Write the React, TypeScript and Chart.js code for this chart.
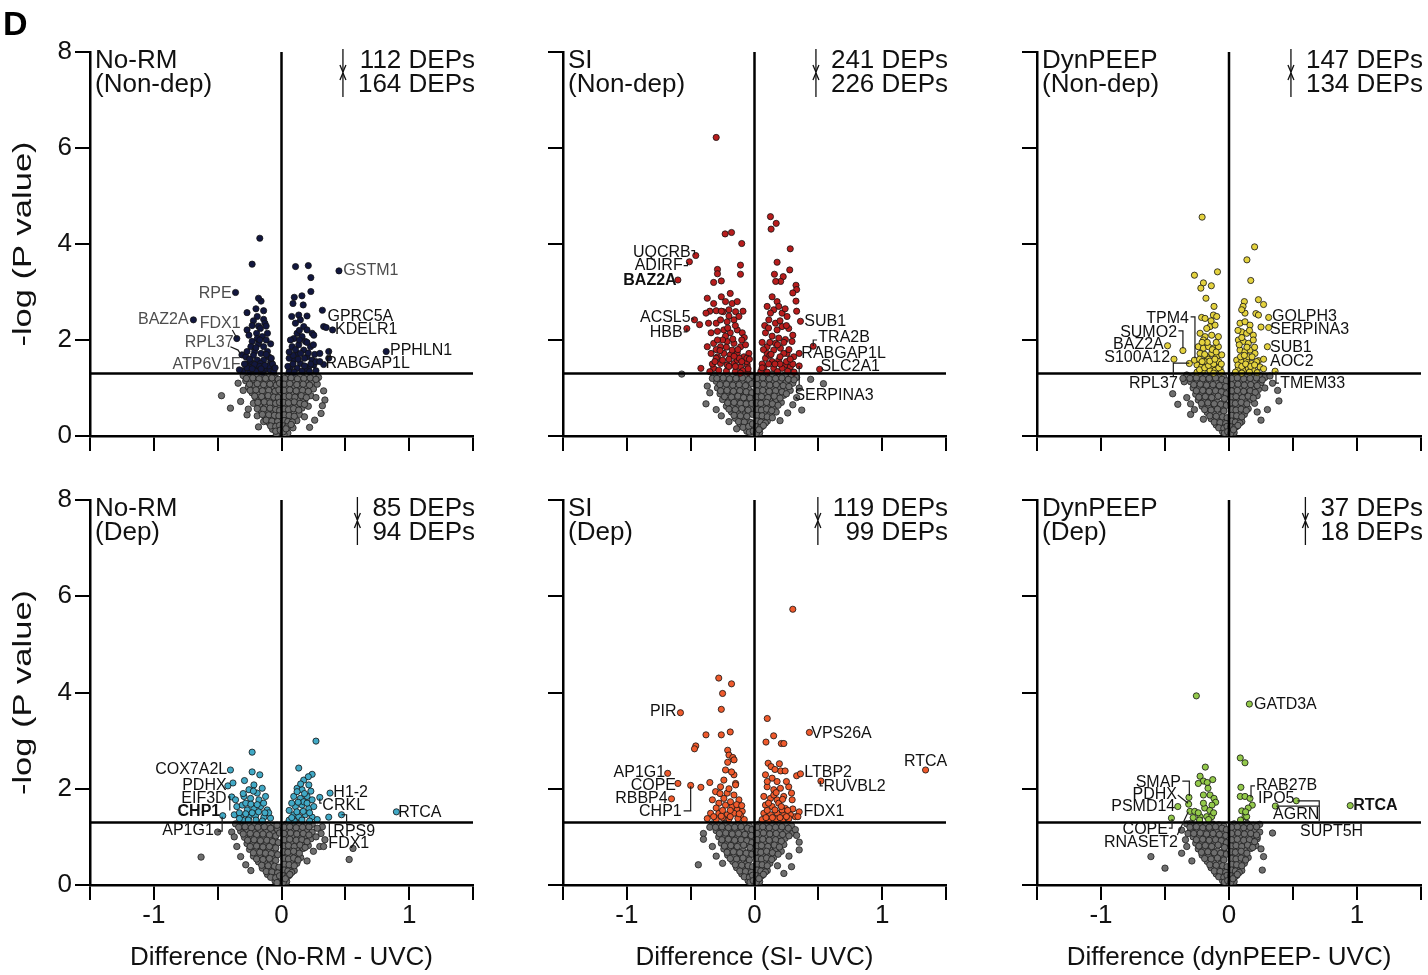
import React, { useEffect, useRef } from 'react';
import { Chart, registerables } from 'chart.js';
Chart.register(...registerables);

const FONT = "'Liberation Sans', Arial, Helvetica, sans-serif";
const THRESHOLD = 1.301; // -log10(0.05)
const GREY_TXT = '#4d4d4d';

// ---------- data: flat [x, y, x, y, ...] lists ----------
const noRmNonDepSig = [
  -0.17,4.12, -0.23,3.58, -0.36,2.99, -0.69,2.42, -0.35,2.03, -0.31,1.69, -0.28,1.5,
  -0.16,2.81, -0.18,2.87, -0.14,2.61, -0.19,2.49, -0.14,2.43, -0.13,2.35, -0.27,2.57, -0.18,2.29, -0.165,2.24,
  -0.195,2.14, -0.12,2.29, -0.11,2.14, -0.15,2.07, -0.19,2.03, -0.27,2.21, -0.255,2.10, -0.23,1.97, -0.18,1.92,
  -0.14,1.86, -0.085,1.92, -0.24,1.86, -0.21,1.76, -0.16,1.72, -0.11,1.76, -0.28,1.65, -0.24,1.55, -0.19,1.58,
  -0.14,1.58, -0.085,1.55, -0.073,1.44, -0.255,1.44, -0.19,1.41, -0.125,1.39, -0.165,1.51, -0.10,1.65, -0.27,1.76,
  -0.22,2.4, -0.2,2.65, -0.17,2.0, -0.22,1.68, -0.09,1.38, -0.3,1.36, -0.06,1.35, -0.2,1.35, -0.15,1.33, -0.25,1.34,
  -0.33,1.38, -0.1,1.46, -0.21,1.49, -0.12,2.0, -0.23,2.3,
  -0.27,1.42, -0.23,1.4, -0.17,1.45, -0.13,1.47, -0.07,1.5, -0.25,1.6, -0.12,1.7, -0.2,1.84, -0.08,1.62, -0.29,1.5,
  -0.16,1.4, -0.05,1.42,
  0.11,3.53, 0.21,3.55, 0.23,3.30, 0.23,3.01, 0.10,2.89, 0.16,2.92, 0.09,2.76, 0.17,2.73, 0.08,2.49, 0.135,2.52,
  0.148,2.42, 0.174,2.28, 0.109,2.35, 0.20,2.21, 0.122,2.14, 0.161,2.07, 0.24,2.14, 0.253,2.10, 0.096,2.03,
  0.187,1.97, 0.135,1.90, 0.083,1.86, 0.227,1.86, 0.174,1.79, 0.122,1.72, 0.20,1.65, 0.24,1.58, 0.096,1.58,
  0.148,1.51, 0.214,1.44, 0.253,1.48, 0.07,1.44, 0.122,1.41, 0.187,1.39, 0.06,1.34, 0.1,1.33, 0.16,1.35, 0.22,1.34,
  0.27,1.36, 0.2,2.5, 0.14,2.2, 0.07,2.0, 0.18,1.62, 0.11,1.8, 0.06,1.62,
  0.05,1.45, 0.09,1.5, 0.13,1.6, 0.18,1.46, 0.23,1.5, 0.27,1.55, 0.15,1.72, 0.21,1.73, 0.26,1.7, 0.09,1.68,
  0.2,1.95, 0.25,1.9, 0.14,2.0, 0.06,1.75,
  0.45,3.44, 0.32,2.62, 0.33,2.28, 0.35,2.26, 0.40,2.21, 0.82,1.76, 0.33,1.49, 0.30,1.72, 0.30,1.55, 0.37,1.76, 0.37,1.62,
];
const noRmNonDepNs = [
  -0.30,1.26, -0.25,1.27, -0.2,1.25, -0.15,1.26, -0.1,1.24, -0.06,1.27, -0.28,1.15, -0.22,1.17, -0.17,1.14, -0.12,1.16,
  -0.07,1.13, -0.04,1.2, -0.26,1.02, -0.21,1.05, -0.16,1.0, -0.11,1.03, -0.06,0.98, -0.23,0.9, -0.18,0.92, -0.13,0.88,
  -0.08,0.9, -0.04,0.85, -0.2,0.78, -0.15,0.8, -0.1,0.76, -0.05,0.74, -0.22,0.68, -0.17,0.66, -0.12,0.64, -0.07,0.62,
  -0.03,0.6, -0.16,0.52, -0.11,0.5, -0.06,0.48, -0.13,0.4, -0.08,0.38, -0.04,0.34, -0.1,0.28, -0.06,0.24, -0.03,0.18,
  -0.07,0.14, -0.02,0.08, -0.04,0.04, -0.47,0.84, -0.40,0.58, -0.32,0.72, -0.27,0.44, -0.18,0.19, -0.34,1.1, -0.3,0.95,
  -0.26,0.56, -0.19,0.42, -0.14,0.3,
  0.05,1.26, 0.1,1.25, 0.15,1.27, 0.2,1.24, 0.25,1.26, 0.29,1.22, 0.04,1.14, 0.09,1.16, 0.14,1.13, 0.19,1.15,
  0.24,1.12, 0.05,1.02, 0.1,1.04, 0.15,1.0, 0.2,1.03, 0.25,0.98, 0.04,0.9, 0.09,0.88, 0.14,0.91, 0.19,0.87,
  0.23,0.84, 0.04,0.76, 0.08,0.74, 0.13,0.78, 0.18,0.72, 0.03,0.63, 0.07,0.6, 0.12,0.64, 0.16,0.58, 0.21,0.62,
  0.05,0.5, 0.1,0.48, 0.14,0.45, 0.04,0.38, 0.08,0.35, 0.12,0.32, 0.03,0.26, 0.06,0.22, 0.09,0.17, 0.03,0.12,
  0.05,0.06, 0.02,0.03, 0.33,0.94, 0.34,0.75, 0.32,0.63, 0.31,0.47, 0.26,0.33, 0.22,0.18, 0.28,1.08, 0.27,0.8, 0.18,0.4,
];
const noRmNonDepCore = [
  -0.275,1.2, -0.225,1.21, -0.175,1.19, -0.125,1.2, -0.075,1.21, -0.025,1.18, -0.25,1.08, -0.19,1.09, -0.14,1.07,
  -0.09,1.08, -0.04,1.06, -0.015,1.1, -0.245,0.95, -0.2,0.96, -0.15,0.94, -0.1,0.95, -0.05,0.93, -0.02,0.96,
  -0.21,0.83, -0.155,0.82, -0.105,0.84, -0.06,0.81, -0.025,0.8, -0.185,0.7, -0.135,0.71, -0.09,0.69, -0.045,0.68,
  -0.015,0.7, -0.19,0.57, -0.14,0.56, -0.09,0.58, -0.045,0.55, -0.015,0.53, -0.15,0.45, -0.1,0.44, -0.055,0.43,
  -0.02,0.42, -0.12,0.33, -0.075,0.31, -0.03,0.3, -0.085,0.21, -0.045,0.2, -0.015,0.22, -0.045,0.1, -0.01,0.12,
  0.025,1.2, 0.075,1.21, 0.125,1.19, 0.175,1.2, 0.225,1.21, 0.27,1.18, 0.02,1.08, 0.065,1.09, 0.12,1.07, 0.17,1.08,
  0.22,1.06, 0.02,0.95, 0.065,0.96, 0.115,0.94, 0.165,0.95, 0.21,0.93, 0.02,0.82, 0.06,0.83, 0.105,0.81, 0.155,0.84,
  0.195,0.8, 0.015,0.7, 0.055,0.69, 0.1,0.71, 0.145,0.68, 0.18,0.66, 0.02,0.56, 0.055,0.55, 0.095,0.57, 0.135,0.54,
  0.02,0.44, 0.06,0.43, 0.1,0.41, 0.02,0.32, 0.05,0.3, 0.085,0.29, 0.015,0.21, 0.045,0.19, 0.075,0.24, 0.015,0.09, 0.035,0.15,
];

const siNonDepSig = [
  -0.30,6.22, -0.23,4.21, -0.18,4.24, -0.10,4.01, -0.46,3.76, -0.51,3.63, -0.60,3.25, -0.47,2.42, -0.53,2.24, -0.35,2.60,
  -0.29,3.47, -0.29,3.38, -0.32,3.20, -0.26,3.23, -0.11,3.56, -0.11,3.37, -0.37,2.87, -0.32,2.76, -0.26,2.90, -0.227,2.80,
  -0.19,2.97, -0.175,2.76, -0.135,2.80, -0.245,2.59, -0.20,2.63, -0.148,2.59, -0.30,2.61, -0.38,2.56, -0.43,2.32, -0.36,2.35,
  -0.30,2.35, -0.266,2.42, -0.214,2.38, -0.161,2.42, -0.122,2.49, -0.34,2.15, -0.29,2.18, -0.24,2.21, -0.19,2.15,
  -0.135,2.21, -0.096,2.15, -0.37,1.86, -0.32,1.93, -0.266,1.86, -0.214,1.97, -0.161,1.93, -0.109,1.86, -0.07,1.90,
  -0.34,1.72, -0.29,1.65, -0.24,1.72, -0.19,1.69, -0.135,1.72, -0.083,1.65, -0.266,1.51, -0.214,1.48, -0.161,1.51,
  -0.109,1.44, -0.057,1.48, -0.42,1.41, -0.32,1.41, -0.175,1.79, -0.227,2.08, -0.135,1.58, -0.044,1.72,
  -0.22,1.35, -0.15,1.34, -0.09,1.36, -0.05,1.33, -0.28,1.37, -0.35,1.34, -0.2,1.6, -0.12,1.62, -0.06,1.55, -0.25,2.0,
  -0.08,2.05, -0.3,1.8, -0.15,2.3, -0.2,2.5, -0.09,2.6, -0.05,1.4, -0.11,1.31,
  -0.33,1.5, -0.3,1.62, -0.25,1.58, -0.2,1.45, -0.15,1.45, -0.1,1.55, -0.06,1.62, -0.27,1.78, -0.22,1.85, -0.13,1.8,
  -0.1,2.0, -0.17,2.02, -0.29,2.0, -0.21,2.25, -0.26,2.6, -0.31,1.55, -0.16,1.66, -0.04,1.6,
  0.125,4.57, 0.17,4.43, 0.13,4.31, 0.28,3.90, 0.177,3.62, 0.276,3.46, 0.156,3.37, 0.225,3.32, 0.205,3.22, 0.166,3.22,
  0.325,3.14, 0.33,3.05, 0.30,2.98, 0.325,2.81, 0.33,2.60, 0.138,2.90, 0.177,2.80, 0.099,2.70, 0.151,2.63, 0.216,2.56,
  0.255,2.49, 0.112,2.42, 0.164,2.35, 0.216,2.28, 0.268,2.24, 0.086,2.15, 0.138,2.08, 0.19,2.04, 0.242,2.01, 0.294,1.97,
  0.099,1.86, 0.151,1.79, 0.203,1.83, 0.255,1.72, 0.307,1.65, 0.086,1.62, 0.138,1.55, 0.19,1.58, 0.242,1.48, 0.073,1.44,
  0.151,1.41, 0.216,1.41, 0.281,1.44, 0.125,2.56, 0.177,2.21, 0.229,1.72, 0.099,1.72, 0.164,1.93,
  0.36,2.39, 0.46,1.87, 0.35,1.72, 0.51,1.39, 0.35,1.46,
  0.05,1.35, 0.1,1.33, 0.18,1.34, 0.26,1.35, 0.31,1.33, 0.06,1.5, 0.12,1.95, 0.2,2.4, 0.08,2.3, 0.3,1.5, 0.2,1.5, 0.12,1.68,
  0.06,1.42, 0.11,1.5, 0.16,1.5, 0.25,1.55, 0.28,1.6, 0.2,1.65, 0.13,1.7, 0.07,1.8, 0.18,1.9, 0.23,1.95, 0.27,1.8,
  0.11,2.25, 0.25,2.3, 0.3,2.1, 0.06,1.95, 0.19,2.7, 0.24,2.65,
];
const siNonDepNs = [
  -0.32,1.27, -0.27,1.25, -0.22,1.28, -0.17,1.24, -0.12,1.27, -0.07,1.25, -0.03,1.22, -0.30,1.14, -0.25,1.16, -0.2,1.12,
  -0.15,1.15, -0.1,1.13, -0.05,1.1, -0.29,1.0, -0.24,1.03, -0.19,0.99, -0.14,1.02, -0.09,0.98, -0.04,0.95, -0.27,0.88,
  -0.22,0.9, -0.17,0.86, -0.12,0.89, -0.07,0.85, -0.25,0.76, -0.2,0.74, -0.15,0.77, -0.1,0.72, -0.05,0.7, -0.22,0.62,
  -0.17,0.6, -0.12,0.64, -0.07,0.58, -0.03,0.55, -0.18,0.5, -0.13,0.47, -0.08,0.44, -0.15,0.37, -0.1,0.34, -0.05,0.3,
  -0.11,0.24, -0.07,0.2, -0.03,0.15, -0.06,0.1, -0.02,0.05, -0.57,1.29, -0.38,0.67, -0.37,1.04, -0.35,0.9, -0.33,1.2,
  -0.3,0.55, -0.26,0.42, -0.2,0.3, -0.14,0.15,
  0.04,1.27, 0.09,1.25, 0.14,1.28, 0.19,1.24, 0.24,1.27, 0.29,1.25, 0.33,1.22, 0.05,1.14, 0.1,1.16, 0.15,1.12,
  0.2,1.15, 0.25,1.13, 0.3,1.1, 0.04,1.01, 0.09,1.03, 0.14,0.99, 0.19,1.02, 0.24,0.98, 0.28,0.95, 0.04,0.88,
  0.08,0.9, 0.13,0.86, 0.18,0.89, 0.23,0.85, 0.03,0.75, 0.08,0.77, 0.12,0.73, 0.17,0.76, 0.21,0.7, 0.03,0.62,
  0.07,0.6, 0.11,0.64, 0.15,0.58, 0.04,0.5, 0.08,0.47, 0.12,0.45, 0.17,0.5, 0.03,0.37, 0.07,0.35, 0.1,0.31,
  0.03,0.25, 0.06,0.2, 0.02,0.12, 0.04,0.07, 0.44,1.18, 0.54,1.09, 0.37,0.54, 0.33,0.8, 0.3,0.65, 0.26,0.48, 0.2,0.32, 0.35,1.0,
];
const siNonDepCore = [
  -0.295,1.2, -0.245,1.21, -0.195,1.19, -0.145,1.2, -0.095,1.21, -0.045,1.18, -0.015,1.26, -0.27,1.07, -0.22,1.08,
  -0.17,1.06, -0.12,1.07, -0.07,1.05, -0.02,1.09, -0.265,0.94, -0.215,0.95, -0.165,0.93, -0.115,0.94, -0.065,0.92,
  -0.02,0.9, -0.235,0.82, -0.18,0.81, -0.13,0.83, -0.085,0.8, -0.035,0.79, -0.21,0.69, -0.16,0.7, -0.11,0.68,
  -0.065,0.67, -0.02,0.68, -0.2,0.56, -0.15,0.55, -0.1,0.57, -0.05,0.54, -0.015,0.45, -0.16,0.43, -0.11,0.42,
  -0.06,0.41, -0.125,0.3, -0.08,0.29, -0.03,0.28, -0.09,0.18, -0.045,0.2, -0.015,0.25, -0.04,0.08, -0.01,0.1,
  0.02,1.2, 0.065,1.21, 0.115,1.19, 0.165,1.2, 0.215,1.21, 0.265,1.18, 0.31,1.17, 0.02,1.07, 0.07,1.08, 0.12,1.06,
  0.17,1.07, 0.225,1.05, 0.27,1.03, 0.02,0.94, 0.065,0.95, 0.115,0.93, 0.165,0.94, 0.215,0.92, 0.25,0.88, 0.015,0.81,
  0.055,0.82, 0.105,0.8, 0.155,0.83, 0.2,0.79, 0.015,0.69, 0.05,0.68, 0.095,0.7, 0.14,0.67, 0.185,0.64, 0.02,0.55,
  0.055,0.54, 0.095,0.56, 0.135,0.53, 0.02,0.43, 0.06,0.42, 0.1,0.4, 0.14,0.38, 0.02,0.31, 0.05,0.29, 0.085,0.27,
  0.015,0.19, 0.045,0.17, 0.07,0.22, 0.015,0.06, 0.035,0.13,
];

const dynNonDepSig = [
  -0.21,4.56, -0.27,3.35, -0.09,3.42, -0.20,3.19, -0.22,3.08, -0.138,3.13, -0.18,2.87, -0.117,2.70, -0.122,2.52,
  -0.096,2.49, -0.214,2.47, -0.187,2.45, -0.148,2.28, -0.109,2.31, -0.174,2.24, -0.226,2.14, -0.187,2.07, -0.135,2.10,
  -0.083,2.07, -0.24,1.86, -0.20,1.83, -0.16,1.86, -0.122,1.83, -0.083,1.86, -0.226,1.72, -0.174,1.65, -0.135,1.72,
  -0.096,1.65, -0.057,1.69, -0.25,1.48, -0.214,1.44, -0.174,1.51, -0.135,1.44, -0.096,1.48, -0.07,1.41, -0.20,1.37,
  -0.148,1.36, -0.109,1.37, -0.27,1.58, -0.36,1.78, -0.48,1.88, -0.43,1.60, -0.31,1.51,
  -0.06,1.33, -0.25,1.33, -0.16,1.6, -0.2,2.0, -0.1,1.95, -0.14,2.4, -0.08,1.55, -0.19,1.55, -0.23,1.6, -0.12,1.31,
  -0.23,1.38, -0.19,1.42, -0.16,1.47, -0.12,1.5, -0.08,1.42, -0.21,1.55, -0.15,1.56, -0.11,1.6, -0.19,1.7, -0.13,1.8,
  -0.17,1.95, -0.1,1.75, -0.21,1.95, -0.06,1.5,
  0.20,3.94, 0.14,3.67, 0.17,3.24, 0.23,2.84, 0.27,2.74, 0.12,2.80, 0.11,2.70, 0.31,2.47, 0.21,2.55, 0.23,2.52,
  0.25,2.27, 0.31,2.26, 0.30,1.86, 0.23,1.57, 0.36,1.35, 0.086,2.35, 0.125,2.38, 0.164,2.31, 0.099,2.17, 0.138,2.14,
  0.19,2.10, 0.073,2.00, 0.112,1.97, 0.151,1.93, 0.19,2.00, 0.086,1.79, 0.125,1.76, 0.164,1.79, 0.203,1.72, 0.06,1.58,
  0.099,1.55, 0.138,1.58, 0.177,1.51, 0.216,1.55, 0.073,1.41, 0.112,1.37, 0.151,1.41, 0.19,1.37, 0.242,1.44, 0.125,2.56,
  0.099,2.63, 0.05,1.33, 0.1,1.31, 0.16,1.33, 0.22,1.32, 0.27,1.4, 0.27,1.6, 0.08,1.9, 0.15,1.65,
  0.07,1.48, 0.1,1.45, 0.13,1.5, 0.17,1.45, 0.2,1.48, 0.09,1.65, 0.12,1.68, 0.18,1.65, 0.2,1.85, 0.14,1.85, 0.1,2.05,
  0.16,2.2, 0.07,2.2,
];
const dynNonDepNs = [
  -0.33,1.27, -0.28,1.25, -0.23,1.28, -0.18,1.24, -0.13,1.27, -0.08,1.25, -0.04,1.22, -0.3,1.13, -0.25,1.15, -0.2,1.12,
  -0.15,1.16, -0.1,1.12, -0.05,1.09, -0.28,1.0, -0.23,1.02, -0.18,0.98, -0.13,1.01, -0.08,0.97, -0.04,0.94, -0.26,0.87,
  -0.21,0.89, -0.16,0.85, -0.11,0.88, -0.06,0.84, -0.24,0.75, -0.19,0.73, -0.14,0.76, -0.09,0.71, -0.04,0.69, -0.21,0.62,
  -0.16,0.6, -0.11,0.63, -0.06,0.57, -0.17,0.49, -0.12,0.46, -0.07,0.43, -0.14,0.36, -0.09,0.33, -0.04,0.29, -0.1,0.23,
  -0.06,0.19, -0.03,0.14, -0.05,0.09, -0.02,0.04, -0.44,0.88, -0.40,0.66, -0.35,1.13, -0.30,0.67, -0.30,0.45, -0.36,1.2,
  -0.33,0.8, -0.27,0.55, -0.2,0.35,
  0.04,1.27, 0.09,1.25, 0.14,1.28, 0.19,1.24, 0.24,1.26, 0.28,1.22, 0.05,1.14, 0.1,1.16, 0.15,1.12, 0.2,1.15,
  0.25,1.11, 0.04,1.01, 0.09,1.03, 0.14,0.99, 0.19,1.02, 0.23,0.97, 0.04,0.88, 0.08,0.9, 0.13,0.86, 0.18,0.89,
  0.22,0.84, 0.03,0.75, 0.08,0.77, 0.12,0.73, 0.17,0.76, 0.2,0.68, 0.03,0.62, 0.07,0.6, 0.11,0.64, 0.15,0.57,
  0.04,0.5, 0.08,0.47, 0.12,0.45, 0.03,0.37, 0.07,0.35, 0.1,0.3, 0.03,0.25, 0.06,0.2, 0.02,0.12, 0.04,0.07,
  0.39,0.73, 0.38,0.95, 0.25,0.33, 0.28,1.0, 0.32,1.25, 0.3,0.55, 0.22,0.5, 0.34,1.1,
];
const dynNonDepCore = [
  -0.305,1.2, -0.255,1.21, -0.205,1.19, -0.155,1.2, -0.105,1.21, -0.055,1.18, -0.02,1.15, -0.275,1.07, -0.225,1.08,
  -0.175,1.06, -0.125,1.07, -0.075,1.05, -0.025,1.03, -0.255,0.94, -0.205,0.95, -0.155,0.93, -0.105,0.94, -0.06,0.92,
  -0.02,0.88, -0.235,0.81, -0.185,0.82, -0.135,0.8, -0.085,0.83, -0.035,0.78, -0.215,0.68, -0.165,0.69, -0.115,0.67,
  -0.065,0.66, -0.02,0.64, -0.19,0.55, -0.14,0.54, -0.09,0.56, -0.04,0.52, -0.15,0.42, -0.1,0.41, -0.05,0.4,
  -0.015,0.38, -0.115,0.29, -0.07,0.28, -0.025,0.26, -0.08,0.17, -0.04,0.16, -0.015,0.2, -0.035,0.06, -0.01,0.09,
  0.02,1.2, 0.065,1.21, 0.115,1.19, 0.165,1.2, 0.215,1.21, 0.26,1.17, 0.02,1.07, 0.07,1.08, 0.12,1.06, 0.17,1.07,
  0.22,1.05, 0.02,0.94, 0.065,0.95, 0.115,0.93, 0.165,0.94, 0.205,0.91, 0.015,0.81, 0.055,0.82, 0.105,0.8, 0.15,0.83,
  0.19,0.79, 0.015,0.69, 0.05,0.68, 0.095,0.7, 0.14,0.67, 0.02,0.55, 0.055,0.54, 0.095,0.56, 0.135,0.53, 0.02,0.43,
  0.06,0.42, 0.1,0.4, 0.02,0.31, 0.05,0.29, 0.085,0.27, 0.015,0.19, 0.045,0.17, 0.07,0.22, 0.015,0.06, 0.035,0.13,
];

const noRmDepSig = [
  -0.40,2.39, -0.23,2.76, -0.23,2.35, -0.17,2.29, -0.42,2.06, -0.38,2.12, -0.29,2.17, -0.39,1.83, -0.46,1.44,
  -0.255,1.98, -0.216,2.08, -0.19,1.91, -0.151,2.01, -0.294,1.84, -0.242,1.80, -0.177,1.77, -0.125,1.84, -0.35,1.63,
  -0.307,1.66, -0.268,1.56, -0.216,1.59, -0.164,1.63, -0.112,1.56, -0.37,1.46, -0.32,1.42, -0.255,1.41, -0.203,1.44,
  -0.138,1.41, -0.086,1.39, -0.36,1.77, -0.28,1.70, -0.2,1.35, -0.15,1.33, -0.3,1.34, -0.1,1.5,
  -0.33,1.5, -0.28,1.48, -0.23,1.5, -0.18,1.52, -0.13,1.5, -0.24,1.68, -0.19,1.67, -0.14,1.7, -0.3,1.9, -0.22,1.95,
  -0.33,1.38, -0.26,1.35,
  0.27,2.99, 0.135,2.43, 0.24,2.30, 0.38,1.91, 0.30,1.82, 0.90,1.52, 0.47,1.46, 0.37,1.41, 0.174,2.18, 0.122,2.01,
  0.161,1.98, 0.214,2.08, 0.096,1.84, 0.148,1.80, 0.20,1.84, 0.24,1.77, 0.109,1.63, 0.161,1.66, 0.214,1.59, 0.253,1.63,
  0.096,1.46, 0.135,1.42, 0.187,1.46, 0.24,1.41, 0.122,1.94, 0.174,1.73, 0.06,1.35, 0.1,1.33, 0.16,1.35, 0.22,1.33,
  0.28,1.36, 0.06,1.55, 0.08,1.4, 0.12,1.52, 0.17,1.53, 0.22,1.5, 0.13,1.72, 0.2,1.7, 0.08,1.7, 0.18,1.9, 0.23,1.95,
  0.15,2.1, 0.21,2.25,
];
const noRmDepNs = [
  -0.36,1.27, -0.31,1.25, -0.26,1.28, -0.21,1.24, -0.16,1.27, -0.11,1.25, -0.06,1.22, -0.32,1.12, -0.27,1.15, -0.22,1.11,
  -0.17,1.14, -0.12,1.1, -0.07,1.08, -0.03,1.15, -0.29,0.99, -0.24,1.01, -0.19,0.97, -0.14,1.0, -0.09,0.96, -0.05,0.93,
  -0.27,0.86, -0.22,0.88, -0.17,0.84, -0.12,0.87, -0.07,0.82, -0.25,0.74, -0.2,0.72, -0.15,0.75, -0.1,0.7, -0.05,0.68,
  -0.22,0.6, -0.17,0.58, -0.12,0.62, -0.07,0.56, -0.18,0.48, -0.13,0.45, -0.08,0.42, -0.15,0.35, -0.1,0.32, -0.05,0.28,
  -0.11,0.22, -0.06,0.18, -0.03,0.13, -0.05,0.08, -0.02,0.03, -0.50,1.10, -0.63,0.58, -0.39,1.10, -0.32,1.21, -0.37,1.0,
  -0.35,0.80, -0.32,0.59, -0.28,0.42, -0.24,0.3,
  0.04,1.27, 0.09,1.25, 0.14,1.28, 0.19,1.24, 0.24,1.26, 0.05,1.14, 0.1,1.16, 0.15,1.12, 0.2,1.15, 0.24,1.1,
  0.04,1.01, 0.09,1.03, 0.14,0.99, 0.19,1.02, 0.23,0.96, 0.04,0.88, 0.08,0.9, 0.13,0.86, 0.18,0.89, 0.21,0.82,
  0.03,0.75, 0.08,0.77, 0.12,0.73, 0.17,0.76, 0.03,0.62, 0.07,0.6, 0.11,0.64, 0.15,0.57, 0.04,0.5, 0.08,0.47,
  0.12,0.45, 0.03,0.37, 0.07,0.35, 0.1,0.3, 0.03,0.25, 0.06,0.2, 0.02,0.12, 0.04,0.07, 0.53,0.53, 0.30,0.80,
  0.31,1.07, 0.56,0.76, 0.34,0.94, 0.32,1.21, 0.28,1.18, 0.33,0.80, 0.27,1.0, 0.25,0.7, 0.2,0.5,
];
const noRmDepCore = [
  -0.335,1.2, -0.285,1.21, -0.235,1.19, -0.185,1.2, -0.135,1.21, -0.085,1.18, -0.035,1.24, -0.3,1.06, -0.245,1.07,
  -0.195,1.05, -0.145,1.06, -0.095,1.04, -0.045,1.02, -0.015,1.08, -0.265,0.93, -0.215,0.94, -0.165,0.92, -0.115,0.93,
  -0.07,0.9, -0.025,0.88, -0.245,0.8, -0.195,0.81, -0.145,0.79, -0.095,0.8, -0.045,0.77, -0.22,0.67, -0.17,0.68,
  -0.125,0.66, -0.08,0.65, -0.03,0.63, -0.195,0.54, -0.145,0.53, -0.095,0.55, -0.045,0.51, -0.155,0.41, -0.105,0.4,
  -0.055,0.39, -0.02,0.37, -0.12,0.28, -0.075,0.27, -0.03,0.25, -0.085,0.16, -0.045,0.15, -0.015,0.19, -0.035,0.05,
  0.02,1.2, 0.065,1.21, 0.115,1.19, 0.165,1.2, 0.215,1.21, 0.02,1.07, 0.07,1.08, 0.12,1.06, 0.17,1.07, 0.215,1.04,
  0.02,0.94, 0.065,0.95, 0.115,0.93, 0.16,0.94, 0.2,0.9, 0.015,0.81, 0.055,0.82, 0.1,0.8, 0.145,0.83, 0.185,0.78,
  0.015,0.69, 0.05,0.68, 0.095,0.7, 0.14,0.66, 0.02,0.55, 0.055,0.54, 0.095,0.56, 0.13,0.52, 0.02,0.43, 0.06,0.42,
  0.1,0.4, 0.02,0.31, 0.05,0.29, 0.08,0.26, 0.015,0.19, 0.045,0.17, 0.065,0.22, 0.015,0.06, 0.03,0.13,
];

const siDepSig = [
  -0.28,4.30, -0.18,4.18, -0.25,3.98, -0.26,3.65, -0.58,3.58, -0.38,3.12, -0.26,3.12, -0.19,3.18, -0.46,2.89, -0.47,2.83,
  -0.21,2.80, -0.20,2.70, -0.17,2.65, -0.16,2.60, -0.68,2.32, -0.60,2.11, -0.65,1.79, -0.50,2.07, -0.42,2.03, -0.35,2.13,
  -0.227,2.39, -0.161,2.29, -0.148,2.11, -0.24,2.18, -0.305,1.94, -0.214,1.91, -0.161,1.87, -0.122,1.77, -0.33,1.77,
  -0.279,1.70, -0.227,1.66, -0.175,1.63, -0.135,1.56, -0.096,1.53, -0.344,1.49, -0.279,1.49, -0.214,1.46, -0.161,1.49,
  -0.109,1.44, -0.24,1.80, -0.188,1.73, -0.148,2.08, -0.266,2.04, -0.37,1.38, -0.3,1.36, -0.2,1.37, -0.13,1.38,
  -0.08,1.36, -0.25,1.4,
  -0.32,1.42, -0.26,1.43, -0.19,1.42, -0.12,1.48, -0.3,1.6, -0.25,1.55, -0.19,1.55, -0.14,1.67, -0.2,2.0, -0.27,1.9,
  -0.18,2.35, -0.21,2.55, -0.1,1.65,
  0.30,5.73, 0.10,3.46, 0.43,3.17, 0.15,3.10, 0.09,2.97, 0.21,2.94, 0.23,2.94, 1.34,2.39, 0.33,2.27, 0.36,2.31,
  0.52,2.16, 0.35,1.52, 0.32,1.42, 0.34,1.42, 0.107,2.53, 0.13,2.46, 0.195,2.52, 0.205,2.37, 0.24,2.37, 0.268,2.04,
  0.29,1.91, 0.295,1.77, 0.30,1.58, 0.086,2.29, 0.138,2.22, 0.177,2.15, 0.099,2.04, 0.151,1.98, 0.203,2.01, 0.073,1.84,
  0.125,1.80, 0.177,1.77, 0.229,1.84, 0.086,1.66, 0.138,1.63, 0.19,1.70, 0.242,1.59, 0.073,1.49, 0.125,1.46, 0.177,1.49,
  0.229,1.46, 0.281,1.46, 0.151,1.87, 0.216,1.56, 0.06,1.36, 0.11,1.34, 0.17,1.37, 0.22,1.35, 0.27,1.38,
  0.09,1.4, 0.14,1.4, 0.2,1.4, 0.25,1.42, 0.1,1.55, 0.16,1.56, 0.21,1.63, 0.26,1.55, 0.11,1.7, 0.17,1.92, 0.22,1.78,
  0.1,2.15, 0.16,2.4, 0.25,2.15,
];
const siDepNs = [
  -0.33,1.27, -0.28,1.25, -0.23,1.28, -0.18,1.24, -0.13,1.27, -0.08,1.25, -0.04,1.22, -0.3,1.13, -0.25,1.15, -0.2,1.12,
  -0.15,1.16, -0.1,1.12, -0.05,1.09, -0.28,1.0, -0.23,1.02, -0.18,0.98, -0.13,1.01, -0.08,0.97, -0.04,0.94, -0.26,0.87,
  -0.21,0.89, -0.16,0.85, -0.11,0.88, -0.06,0.84, -0.24,0.75, -0.19,0.73, -0.14,0.76, -0.09,0.71, -0.04,0.69, -0.21,0.62,
  -0.16,0.6, -0.11,0.63, -0.06,0.57, -0.17,0.49, -0.12,0.46, -0.07,0.43, -0.14,0.36, -0.09,0.33, -0.04,0.29, -0.1,0.23,
  -0.06,0.19, -0.03,0.14, -0.05,0.09, -0.02,0.04, -0.44,0.42, -0.40,1.07, -0.40,0.95, -0.35,1.2, -0.33,0.8, -0.3,0.6,
  -0.25,0.45,
  0.04,1.27, 0.09,1.25, 0.14,1.28, 0.19,1.24, 0.24,1.26, 0.29,1.23, 0.05,1.14, 0.1,1.16, 0.15,1.12, 0.2,1.15,
  0.25,1.11, 0.3,1.08, 0.04,1.01, 0.09,1.03, 0.14,0.99, 0.19,1.02, 0.24,0.97, 0.04,0.88, 0.08,0.9, 0.13,0.86,
  0.18,0.89, 0.23,0.84, 0.03,0.75, 0.08,0.77, 0.12,0.73, 0.17,0.76, 0.21,0.7, 0.03,0.62, 0.07,0.6, 0.11,0.64,
  0.15,0.57, 0.04,0.5, 0.08,0.47, 0.12,0.45, 0.03,0.37, 0.07,0.35, 0.1,0.3, 0.03,0.25, 0.06,0.2, 0.02,0.12,
  0.04,0.07, 0.29,0.38, 0.35,0.73, 0.32,1.15, 0.33,1.03, 0.35,0.89, 0.23,0.24, 0.27,0.6, 0.18,0.4,
];
const siDepCore = [
  -0.305,1.2, -0.255,1.21, -0.205,1.19, -0.155,1.2, -0.105,1.21, -0.055,1.18, -0.02,1.15, -0.275,1.07, -0.225,1.08,
  -0.175,1.06, -0.125,1.07, -0.075,1.05, -0.025,1.03, -0.255,0.94, -0.205,0.95, -0.155,0.93, -0.105,0.94, -0.06,0.92,
  -0.02,0.88, -0.235,0.81, -0.185,0.82, -0.135,0.8, -0.085,0.83, -0.035,0.78, -0.215,0.68, -0.165,0.69, -0.115,0.67,
  -0.065,0.66, -0.02,0.64, -0.19,0.55, -0.14,0.54, -0.09,0.56, -0.04,0.52, -0.15,0.42, -0.1,0.41, -0.05,0.4,
  -0.015,0.38, -0.115,0.29, -0.07,0.28, -0.025,0.26, -0.08,0.17, -0.04,0.16, -0.015,0.2, -0.035,0.06, -0.01,0.09,
  0.02,1.2, 0.065,1.21, 0.115,1.19, 0.165,1.2, 0.215,1.21, 0.265,1.18, 0.02,1.07, 0.07,1.08, 0.12,1.06, 0.17,1.07,
  0.22,1.05, 0.27,1.02, 0.02,0.94, 0.065,0.95, 0.115,0.93, 0.165,0.94, 0.21,0.91, 0.015,0.81, 0.055,0.82, 0.105,0.8,
  0.155,0.83, 0.195,0.79, 0.015,0.69, 0.05,0.68, 0.095,0.7, 0.14,0.67, 0.185,0.64, 0.02,0.55, 0.055,0.54, 0.095,0.56,
  0.135,0.53, 0.02,0.43, 0.06,0.42, 0.1,0.4, 0.02,0.31, 0.05,0.29, 0.085,0.27, 0.015,0.19, 0.045,0.17, 0.07,0.22,
  0.015,0.06, 0.035,0.13,
];

const dynDepSig = [
  -0.255,3.93, -0.185,2.45, -0.226,2.26, -0.20,2.16, -0.17,2.13, -0.127,2.19, -0.24,2.11, -0.164,2.01, -0.148,1.87,
  -0.20,1.87, -0.117,1.80, -0.104,1.72, -0.133,1.66, -0.313,1.82, -0.315,1.68, -0.40,1.63, -0.305,1.53, -0.268,1.53,
  -0.45,1.39, -0.226,1.42, -0.174,1.42, -0.135,1.42, -0.19,1.6, -0.15,1.55, -0.24,1.5,
  -0.23,1.35, -0.16,1.36, -0.2,1.7, -0.12,1.5, -0.28,1.4,
  0.159,3.76, 0.088,2.64, 0.125,2.54, 0.093,2.03, 0.088,1.84, 0.125,1.84, 0.164,1.80, 0.182,1.66, 0.362,1.64,
  0.526,1.75, 0.947,1.65, 0.10,1.54, 0.125,1.42, 0.138,1.42, 0.15,1.6, 0.09,1.35, 0.13,1.52,
];
const dynDepNs = [
  -0.33,1.27, -0.28,1.25, -0.23,1.28, -0.18,1.24, -0.13,1.27, -0.08,1.25, -0.04,1.22, -0.3,1.13, -0.25,1.15, -0.2,1.12,
  -0.15,1.16, -0.1,1.12, -0.05,1.09, -0.28,1.0, -0.23,1.02, -0.18,0.98, -0.13,1.01, -0.08,0.97, -0.04,0.94, -0.26,0.87,
  -0.21,0.89, -0.16,0.85, -0.11,0.88, -0.06,0.84, -0.24,0.75, -0.19,0.73, -0.14,0.76, -0.09,0.71, -0.04,0.69, -0.21,0.62,
  -0.16,0.6, -0.11,0.63, -0.06,0.57, -0.17,0.49, -0.12,0.46, -0.07,0.43, -0.14,0.36, -0.09,0.33, -0.04,0.29, -0.1,0.23,
  -0.06,0.19, -0.03,0.14, -0.05,0.09, -0.02,0.04, -0.61,0.59, -0.50,0.35, -0.37,0.66, -0.33,0.80, -0.34,0.94, -0.32,1.07,
  -0.37,1.14, -0.30,1.28, -0.29,0.5,
  0.04,1.27, 0.09,1.25, 0.14,1.28, 0.19,1.24, 0.24,1.26, 0.05,1.14, 0.1,1.16, 0.15,1.12, 0.2,1.15, 0.24,1.1,
  0.04,1.01, 0.09,1.03, 0.14,0.99, 0.19,1.02, 0.22,0.96, 0.04,0.88, 0.08,0.9, 0.13,0.86, 0.18,0.89, 0.21,0.82,
  0.03,0.75, 0.08,0.77, 0.12,0.73, 0.17,0.76, 0.03,0.62, 0.07,0.6, 0.11,0.64, 0.15,0.57, 0.04,0.5, 0.08,0.47,
  0.12,0.45, 0.03,0.37, 0.07,0.35, 0.1,0.3, 0.03,0.25, 0.06,0.2, 0.02,0.12, 0.04,0.07, 0.34,1.08, 0.26,0.31,
  0.27,0.59, 0.22,1.0, 0.25,0.75,
];
const dynDepCore = [
  -0.305,1.2, -0.255,1.21, -0.205,1.19, -0.155,1.2, -0.105,1.21, -0.055,1.18, -0.02,1.15, -0.275,1.07, -0.225,1.08,
  -0.175,1.06, -0.125,1.07, -0.075,1.05, -0.025,1.03, -0.255,0.94, -0.205,0.95, -0.155,0.93, -0.105,0.94, -0.06,0.92,
  -0.02,0.88, -0.235,0.81, -0.185,0.82, -0.135,0.8, -0.085,0.83, -0.035,0.78, -0.215,0.68, -0.165,0.69, -0.115,0.67,
  -0.065,0.66, -0.02,0.64, -0.19,0.55, -0.14,0.54, -0.09,0.56, -0.04,0.52, -0.15,0.42, -0.1,0.41, -0.05,0.4,
  -0.015,0.38, -0.115,0.29, -0.07,0.28, -0.025,0.26, -0.08,0.17, -0.04,0.16, -0.015,0.2, -0.035,0.06, -0.01,0.09,
  0.02,1.2, 0.065,1.21, 0.115,1.19, 0.165,1.2, 0.215,1.21, 0.02,1.07, 0.07,1.08, 0.12,1.06, 0.17,1.07, 0.215,1.04,
  0.02,0.94, 0.065,0.95, 0.115,0.93, 0.16,0.94, 0.2,0.9, 0.015,0.81, 0.055,0.82, 0.1,0.8, 0.145,0.83, 0.185,0.78,
  0.015,0.69, 0.05,0.68, 0.095,0.7, 0.14,0.66, 0.02,0.55, 0.055,0.54, 0.095,0.56, 0.13,0.52, 0.02,0.43, 0.06,0.42,
  0.1,0.4, 0.02,0.31, 0.05,0.29, 0.08,0.26, 0.015,0.19, 0.045,0.17, 0.065,0.22, 0.015,0.06, 0.03,0.13,
];

// ---------- gene labels: text, anchor (data units), alignment, optional leader polyline ----------
type Lbl = { t: string; lx: number; ly: number; a: 'left' | 'right' | 'center'; c?: string; b?: boolean; path?: number[] };

const noRmNonDepLabels: Lbl[] = [
  { t: 'GSTM1', lx: 0.484, ly: 3.45, a: 'left', c: GREY_TXT },
  { t: 'RPE', lx: -0.39, ly: 2.96, a: 'right', c: GREY_TXT },
  { t: 'BAZ2A', lx: -0.727, ly: 2.42, a: 'right', c: GREY_TXT },
  { t: 'FDX1', lx: -0.32, ly: 2.35, a: 'right', c: GREY_TXT, path: [-0.385, 2.21, -0.35, 2.04] },
  { t: 'RPL37', lx: -0.375, ly: 1.94, a: 'right', c: GREY_TXT, path: [-0.40, 1.86, -0.34, 1.79, -0.32, 1.70] },
  { t: 'ATP6V1F', lx: -0.32, ly: 1.48, a: 'right', c: GREY_TXT },
  { t: 'GPRC5A', lx: 0.36, ly: 2.48, a: 'left' },
  { t: 'KDELR1', lx: 0.42, ly: 2.21, a: 'left' },
  { t: 'PPHLN1', lx: 0.85, ly: 1.77, a: 'left' },
  { t: 'RABGAP1L', lx: 0.344, ly: 1.5, a: 'left', path: [0.375, 1.82, 0.385, 1.62] },
];
const siNonDepLabels: Lbl[] = [
  { t: 'UQCRB', lx: -0.50, ly: 3.83, a: 'right', path: [-0.495, 3.86, -0.47, 3.86, -0.47, 3.78] },
  { t: 'ADIRF', lx: -0.5625, ly: 3.54, a: 'right', path: [-0.555, 3.55, -0.525, 3.55, -0.525, 3.62] },
  { t: 'BAZ2A', lx: -0.61, ly: 3.23, a: 'right', b: true },
  { t: 'ACSL5', lx: -0.50, ly: 2.46, a: 'right', path: [-0.495, 2.45, -0.475, 2.43] },
  { t: 'HBB', lx: -0.5625, ly: 2.15, a: 'right', path: [-0.555, 2.17, -0.53, 2.17, -0.53, 2.24] },
  { t: 'SUB1', lx: 0.39, ly: 2.375, a: 'left' },
  { t: 'TRA2B', lx: 0.50, ly: 2.04, a: 'left', path: [0.46, 1.875, 0.46, 2.0, 0.49, 2.0] },
  { t: 'RABGAP1L', lx: 0.367, ly: 1.71, a: 'left' },
  { t: 'SLC2A1', lx: 0.516, ly: 1.44, a: 'left' },
  { t: 'SERPINA3', lx: 0.3125, ly: 0.85, a: 'left', path: [0.35, 1.46, 0.35, 1.06] },
];
const dynNonDepLabels: Lbl[] = [
  { t: 'TPM4', lx: -0.3125, ly: 2.44, a: 'right', path: [-0.30, 2.48, -0.266, 2.48, -0.266, 1.62] },
  { t: 'SUMO2', lx: -0.406, ly: 2.15, a: 'right', path: [-0.395, 2.19, -0.36, 2.19, -0.36, 1.83] },
  { t: 'BAZ2A', lx: -0.51, ly: 1.90, a: 'right' },
  { t: 'S100A12', lx: -0.46, ly: 1.625, a: 'right' },
  { t: 'RPL37', lx: -0.40, ly: 1.10, a: 'right', path: [-0.435, 1.24, -0.435, 1.52, -0.31, 1.52] },
  { t: 'GOLPH3', lx: 0.336, ly: 2.48, a: 'left' },
  { t: 'SERPINA3', lx: 0.32, ly: 2.21, a: 'left' },
  { t: 'SUB1', lx: 0.32, ly: 1.85, a: 'left' },
  { t: 'AOC2', lx: 0.32, ly: 1.56, a: 'left' },
  { t: 'TMEM33', lx: 0.40, ly: 1.10, a: 'left', path: [0.367, 1.35, 0.367, 1.10, 0.39, 1.10] },
];
const noRmDepLabels: Lbl[] = [
  { t: 'COX7A2L', lx: -0.425, ly: 2.39, a: 'right' },
  { t: 'PDHX', lx: -0.43, ly: 2.06, a: 'right' },
  { t: 'EIF3D', lx: -0.43, ly: 1.79, a: 'right', path: [-0.42, 1.83, -0.405, 1.83, -0.405, 1.55] },
  { t: 'CHP1', lx: -0.48, ly: 1.52, a: 'right', b: true },
  { t: 'AP1G1', lx: -0.53, ly: 1.14, a: 'right', path: [-0.5, 1.12, -0.465, 1.12, -0.465, 1.42] },
  { t: 'H1-2', lx: 0.406, ly: 1.93, a: 'left' },
  { t: 'CRKL', lx: 0.32, ly: 1.64, a: 'left', path: [0.30, 1.80, 0.30, 1.70, 0.315, 1.70] },
  { t: 'RTCA', lx: 0.914, ly: 1.50, a: 'left' },
  { t: 'RPS9', lx: 0.406, ly: 1.12, a: 'left', path: [0.47, 1.46, 0.51, 1.46, 0.51, 1.25] },
  { t: 'FDX1', lx: 0.367, ly: 0.87, a: 'left', path: [0.375, 1.29, 0.375, 1.0] },
];
const siDepLabels: Lbl[] = [
  { t: 'PIR', lx: -0.61, ly: 3.60, a: 'right' },
  { t: 'VPS26A', lx: 0.445, ly: 3.14, a: 'left' },
  { t: 'RTCA', lx: 1.34, ly: 2.56, a: 'center' },
  { t: 'LTBP2', lx: 0.39, ly: 2.33, a: 'left' },
  { t: 'RUVBL2', lx: 0.54, ly: 2.04, a: 'left', path: [0.515, 2.16, 0.515, 2.06, 0.535, 2.06] },
  { t: 'AP1G1', lx: -0.70, ly: 2.33, a: 'right' },
  { t: 'COPE', lx: -0.615, ly: 2.06, a: 'right' },
  { t: 'RBBP4', lx: -0.68, ly: 1.79, a: 'right' },
  { t: 'CHP1', lx: -0.57, ly: 1.52, a: 'right', path: [-0.555, 1.54, -0.50, 1.54, -0.50, 2.05] },
  { t: 'FDX1', lx: 0.383, ly: 1.52, a: 'left' },
];
const dynDepLabels: Lbl[] = [
  { t: 'GATD3A', lx: 0.195, ly: 3.74, a: 'left' },
  { t: 'SMAP', lx: -0.375, ly: 2.12, a: 'right', path: [-0.365, 2.16, -0.31, 2.16, -0.31, 1.85] },
  { t: 'PDHX', lx: -0.406, ly: 1.87, a: 'right', path: [-0.40, 1.87, -0.32, 1.70] },
  { t: 'PSMD14', lx: -0.42, ly: 1.62, a: 'right' },
  { t: 'COPE', lx: -0.477, ly: 1.16, a: 'right', path: [-0.47, 1.18, -0.445, 1.18, -0.445, 1.37] },
  { t: 'RNASET2', lx: -0.40, ly: 0.89, a: 'right', path: [-0.404, 1.04, -0.318, 1.52] },
  { t: 'RAB27B', lx: 0.21, ly: 2.06, a: 'left', path: [0.172, 1.82, 0.172, 2.06, 0.203, 2.06] },
  { t: 'IPO5', lx: 0.227, ly: 1.79, a: 'left' },
  { t: 'AGRN', lx: 0.344, ly: 1.455, a: 'left', path: [0.37, 1.64, 0.705, 1.64] },
  { t: 'SUPT5H', lx: 0.555, ly: 1.12, a: 'left', path: [0.535, 1.75, 0.705, 1.75, 0.705, 1.33] },
  { t: 'RTCA', lx: 0.97, ly: 1.64, a: 'left', b: true },
];

const panelTitles = [
  ['No-RM', '(Non-dep)'], ['SI', '(Non-dep)'], ['DynPEEP', '(Non-dep)'],
  ['No-RM', '(Dep)'], ['SI', '(Dep)'], ['DynPEEP', '(Dep)'],
];
const downCounts = [112, 241, 147, 85, 119, 37];
const upCounts = [164, 226, 134, 94, 99, 18];
const xTitles = ['Difference (No-RM - UVC)', 'Difference (SI- UVC)', 'Difference (dynPEEP- UVC)'];
const yTitle = '-log (P value)';
const sigColors = ['#12173f', '#b81d1d', '#e4d23e', '#41a9c6', '#ef5a2c', '#93c94b'];
const sigData = [noRmNonDepSig, siNonDepSig, dynNonDepSig, noRmDepSig, siDepSig, dynDepSig];
const nsData = [
  [...noRmNonDepNs, ...noRmNonDepCore], [...siNonDepNs, ...siNonDepCore], [...dynNonDepNs, ...dynNonDepCore],
  [...noRmDepNs, ...noRmDepCore], [...siDepNs, ...siDepCore], [...dynDepNs, ...dynDepCore],
];
const labelData = [noRmNonDepLabels, siNonDepLabels, dynNonDepLabels, noRmDepLabels, siDepLabels, dynDepLabels];

// ---------- layout ----------
const COLS = [
  { left: 0, width: 482, yW: 90, padR: 9 },
  { left: 482, width: 472, yW: 81, padR: 8 },
  { left: 954, width: 474, yW: 83, padR: 7 },
];
const ROWS = [
  { top: 0, height: 460, padT: 52, xH: 24 },
  { top: 460, height: 515, padT: 40, xH: 90 },
];

const pts = (flat: number[]) => {
  const out: { x: number; y: number }[] = [];
  for (let i = 0; i + 1 < flat.length; i += 2) out.push({ x: flat[i], y: flat[i + 1] });
  return out;
};

function drawArrow(ctx: CanvasRenderingContext2D, x: number, y0: number, y1: number) {
  ctx.beginPath();
  ctx.moveTo(x, y0);
  ctx.lineTo(x, y1);
  ctx.stroke();
  const dir = y1 > y0 ? 1 : -1;
  ctx.beginPath();
  ctx.moveTo(x - 3, y1 - dir * 7);
  ctx.lineTo(x, y1);
  ctx.lineTo(x + 3, y1 - dir * 7);
  ctx.stroke();
}

function Panel({ idx }: { idx: number }) {
  const ref = useRef<HTMLCanvasElement | null>(null);
  const col = idx % 3;
  const row = Math.floor(idx / 3);
  const C = COLS[col];
  const R = ROWS[row];

  useEffect(() => {
    if (!ref.current) return;
    const decor = {
      id: 'volcanoDecor' + idx,
      afterDatasetsDraw(chart: any) {
        const { ctx, chartArea: a } = chart;
        const xs = chart.scales.x;
        const ys = chart.scales.y;
        ctx.save();
        ctx.strokeStyle = '#000';
        ctx.lineWidth = 2.5;
        const ty = ys.getPixelForValue(THRESHOLD);
        ctx.beginPath(); ctx.moveTo(a.left, ty); ctx.lineTo(a.right, ty); ctx.stroke();
        const zx = xs.getPixelForValue(0);
        ctx.beginPath(); ctx.moveTo(zx, a.top); ctx.lineTo(zx, a.bottom); ctx.stroke();

        ctx.strokeStyle = '#1a1a1a';
        ctx.lineWidth = 1.2;
        for (const l of labelData[idx]) {
          if (!l.path) continue;
          ctx.beginPath();
          for (let i = 0; i + 1 < l.path.length; i += 2) {
            const px = xs.getPixelForValue(l.path[i]);
            const py = ys.getPixelForValue(l.path[i + 1]);
            if (i === 0) ctx.moveTo(px, py); else ctx.lineTo(px, py);
          }
          ctx.stroke();
        }
        ctx.textBaseline = 'middle';
        for (const l of labelData[idx]) {
          ctx.font = `${l.b ? 'bold ' : ''}16px ${FONT}`;
          ctx.fillStyle = l.c || '#111';
          ctx.textAlign = l.a;
          ctx.fillText(l.t, xs.getPixelForValue(l.lx), ys.getPixelForValue(l.ly));
        }

        ctx.font = `26px ${FONT}`;
        ctx.fillStyle = '#111';
        ctx.textAlign = 'left';
        const t1 = a.top + 9;
        const t2 = a.top + 33;
        ctx.fillText(panelTitles[idx][0], a.left + 5, t1);
        ctx.fillText(panelTitles[idx][1], a.left + 5, t2);
        ctx.textAlign = 'right';
        const s1 = downCounts[idx] + ' DEPs';
        const s2 = upCounts[idx] + ' DEPs';
        const rx = a.right + 2;
        ctx.fillText(s1, rx, t1);
        ctx.fillText(s2, rx, t2);
        const w = Math.max(ctx.measureText(s1).width, ctx.measureText(s2).width);
        ctx.strokeStyle = '#111';
        ctx.lineWidth = 1.3;
        const ax = rx - w - 15;
        drawArrow(ctx, ax, a.top - 3, a.top + 20);
        drawArrow(ctx, ax, a.top + 45, a.top + 21);

        if (row === 1) {
          ctx.textAlign = 'center';
          ctx.fillText(xTitles[col], zx, a.bottom + 73);
        }
        if (col === 0) {
          ctx.save();
          ctx.translate(24, (a.top + a.bottom) / 2);
          ctx.rotate(-Math.PI / 2);
          ctx.scale(1.38, 1);
          ctx.font = `25px ${FONT}`;
          ctx.textAlign = 'center';
          ctx.fillText(yTitle, 0, 0);
          ctx.restore();
        }
        if (idx === 0) {
          ctx.font = `bold 34px ${FONT}`;
          ctx.textAlign = 'left';
          ctx.fillStyle = '#000';
          ctx.fillText('D', 3, 26);
        }
        ctx.restore();
      },
    };

    const axisGrid = { display: true, drawOnChartArea: false, drawTicks: true, tickLength: 15, color: '#000', lineWidth: 2 };
    const axisBorder = { display: true, color: '#000', width: 2.5 };
    const tickFont = { family: FONT, size: 26 };

    const chart = new Chart(ref.current, {
      type: 'scatter',
      data: {
        datasets: [
          {
            data: pts(sigData[idx]),
            backgroundColor: sigColors[idx],
            borderColor: '#111',
            borderWidth: 0.8,
            pointRadius: 3.1,
            order: 0,
          },
          {
            data: pts(nsData[idx]),
            backgroundColor: '#6e6e6e',
            borderColor: '#1e1e1e',
            borderWidth: 0.8,
            pointRadius: 3.2,
            order: 1,
          },
        ],
      },
      options: {
        animation: false,
        responsive: false,
        maintainAspectRatio: false,
        devicePixelRatio: 1,
        layout: { padding: { top: R.padT, right: C.padR, left: 0, bottom: 0 } },
        plugins: { legend: { display: false }, tooltip: { enabled: false }, title: { display: false } },
        events: [],
        scales: {
          x: {
            type: 'linear',
            min: -1.5,
            max: 1.5,
            afterFit: (s: any) => { s.height = R.xH; },
            grid: axisGrid,
            border: axisBorder,
            ticks: {
              stepSize: 0.5,
              autoSkip: false,
              maxRotation: 0,
              padding: 0,
              color: '#111',
              font: tickFont,
              callback: (v: any) => (row === 1 && Number.isInteger(Number(v)) ? String(v) : ''),
            },
          },
          y: {
            type: 'linear',
            min: 0,
            max: 8,
            afterFit: (s: any) => { s.width = C.yW; },
            grid: axisGrid,
            border: axisBorder,
            ticks: {
              stepSize: 2,
              padding: 3,
              color: '#111',
              font: tickFont,
              callback: (v: any) => (col === 0 ? String(v) : ''),
            },
          },
        },
      } as any,
      plugins: [decor],
    });
    return () => chart.destroy();
  }, [idx]);

  return (
    <canvas
      ref={ref}
      width={C.width}
      height={R.height}
      style={{ position: 'absolute', left: C.left, top: R.top, width: C.width, height: R.height, display: 'block' }}
    />
  );
}

export default function App() {
  return (
    <div style={{ position: 'absolute', left: 0, top: 0, width: 1428, height: 975, background: '#fff', fontFamily: FONT }}>
      {[0, 1, 2, 3, 4, 5].map((i) => (
        <Panel key={i} idx={i} />
      ))}
    </div>
  );
}
